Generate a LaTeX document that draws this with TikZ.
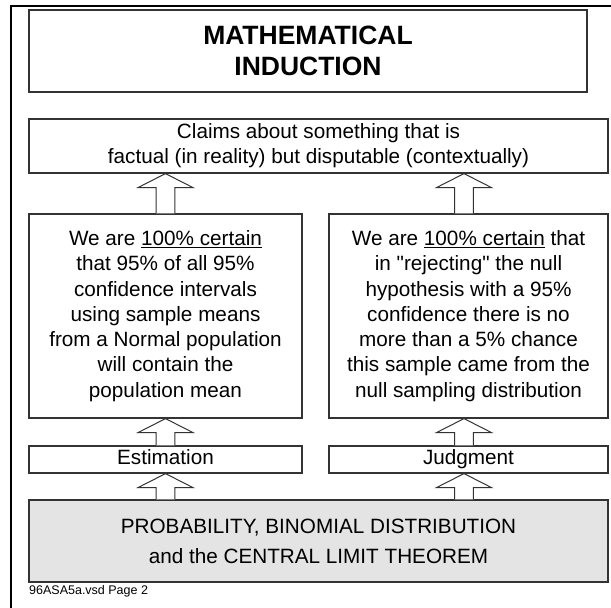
\documentclass[tikz,border=0pt]{standalone}
\usepackage{fontspec}
\setmainfont{Liberation Sans}
\newfontfamily\rawfont{Liberation Sans}[Ligatures=ResetAll]
\usetikzlibrary{calc}
\definecolor{boxgray}{HTML}{E4E4E4}
\tikzset{
  box/.style={draw=black!80, line width=1.2pt, fill=white, inner sep=0pt, align=center, anchor=center},
  bodytext/.style={font=\fontsize{20.7}{25.3}\selectfont},
  barrow/.style={draw=black!80, line width=1pt, fill=white, line join=miter},
  frame/.style={line width=2pt, draw=black}
}
\newcommand\blockup[3]{%
  \draw[barrow] let \p1=(#2.north), \p2=(#3.south) in
    (#1-9.3pt,\y1) -- (#1-9.3pt,\y2-14pt) -- (#1-27.5pt,\y2-14pt) -- (#1,\y2)
    -- (#1+27.5pt,\y2-14pt) -- (#1+9.3pt,\y2-14pt) -- (#1+9.3pt,\y1);}
\newcommand\dq{{\rawfont\char34}}
\begin{document}
\begin{tikzpicture}[x=1pt,y=1pt]
\useasboundingbox (0,0) rectangle (611,608);
% outer frame
\coordinate (fbl) at (11,0);
\coordinate (ftl) at (11,602);
\coordinate (ftr) at (611,602);
\draw[frame] (fbl) -- (ftl) -- (ftr);
% boxes
\node[box, minimum width=558pt, minimum height=82pt, font=\bfseries\fontsize{26.5}{31}\selectfont] (title) at (308,557) {MATHEMATICAL\\INDUCTION};
\node[box, bodytext, minimum width=579pt, minimum height=54pt] (claims) at (318.5,462) {Claims about something that is\\factual (in reality) but disputable (contextually)};
\node[box, bodytext, minimum width=273pt, minimum height=204pt] (left) at (165.5,292) {We are \underline{100\% certain}\\that 95\% of all 95\%\\confidence intervals\\using sample means\\from a Normal population\\will contain the\\population mean};
\node[box, bodytext, minimum width=279pt, minimum height=204pt] (right) at (468.5,292) {We are \underline{100\% certain} that\\in \dq rejecting\dq{} the null\\hypothesis with a 95\%\\confidence there is no\\more than a 5\% chance\\this sample came from the\\null sampling distribution};
\node[box, bodytext, minimum width=273pt, minimum height=27pt] (est) at (165.5,148.5) {\vphantom{Jg}Estimation};
\node[box, bodytext, minimum width=279pt, minimum height=27pt] (judg) at (468.5,148.5) {\vphantom{Jg}Judgment};
\node[box, fill=boxgray, font=\fontsize{20.7}{30}\selectfont, minimum width=579pt, minimum height=82pt] (prob) at (318.5,67) {PROBABILITY, BINOMIAL DISTRIBUTION\\and the CENTRAL LIMIT THEOREM};
\node[anchor=west, inner sep=0pt, font=\fontsize{12.5}{14}\selectfont] (foot) at (29,17) {96ASA5a.vsd Page 2};
% block arrows
\blockup{165.5pt}{left}{claims}
\blockup{464pt}{right}{claims}
\blockup{165.5pt}{est}{left}
\blockup{464pt}{judg}{right}
\blockup{165.5pt}{prob}{est}
\blockup{464pt}{prob}{judg}
\end{tikzpicture}
\end{document}
